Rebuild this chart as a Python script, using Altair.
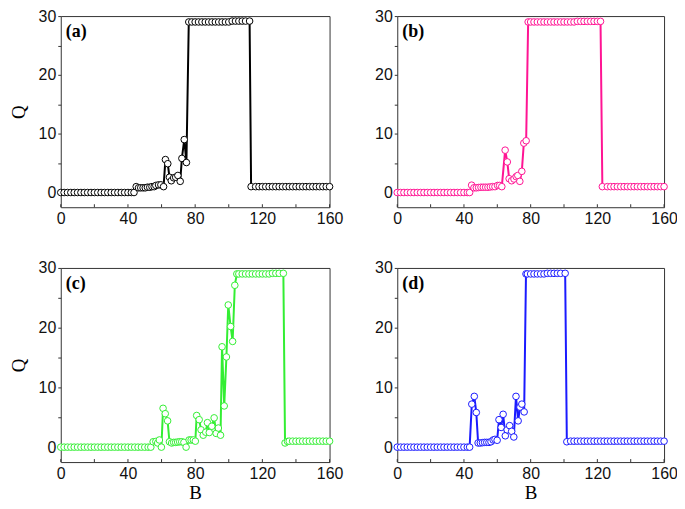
import altair as alt
import pandas as pd

# ---------------- data ----------------
X_TICKS = [0, 20, 40, 60, 80, 100, 120, 140, 160]
Y_TICKS = [0, 5, 10, 15, 20, 25, 30]
LABELS = ["(a)", "(b)", "(c)", "(d)"]
COLORS = ["#000000", "#ff1493", "#33ee33", "#1a1aff"]

Ba = [0, 2, 4, 6, 8, 10, 12, 14, 16, 18, 20, 22, 24, 26, 28, 30, 32, 34, 36, 38, 40, 42, 43.6,
      44.9, 46.3, 47.6, 49.0, 50.3, 51.6, 53.0, 54.3, 55.6, 56.6, 58.2, 59.6, 61.2, 62.3, 63.7, 64.7,
      65.8, 67.2, 68.4, 69.7, 71.1, 72.1, 73.5, 74.8,
      76.2, 78, 80, 82, 84, 86, 88, 90, 92, 94, 96, 98, 100,
      102, 104, 106, 108, 110, 112.4,
      113.3, 116, 118, 120, 122, 124, 126, 128, 130, 132, 134, 136, 138, 140, 142, 144, 146, 148, 150,
      152, 154, 156, 158, 160]
Qa = [0, 0, 0, 0, 0, 0, 0, 0, 0, 0, 0, 0, 0, 0, 0, 0, 0, 0, 0, 0, 0, 0, 0,
      1.0, 0.8, 0.8, 0.8, 0.8, 0.9, 0.9, 1.0, 1.0, 1.2, 1.3, 1.3, 1.0, 5.6, 4.9, 2.6,
      2.0, 2.5, 2.6, 2.9, 1.9, 5.8, 9.0, 5.1,
      29.0, 29.0, 29.0, 29.0, 29.0, 29.0, 29.0, 29.0, 29.0, 29.0, 29.0, 29.0, 29.0,
      29.15, 29.15, 29.15, 29.15, 29.15, 29.15,
      1.0, 1.0, 1.0, 1.0, 1.0, 1.0, 1.0, 1.0, 1.0, 1.0, 1.0, 1.0, 1.0, 1.0, 1.0, 1.0, 1.0, 1.0, 1.0,
      1.0, 1.0, 1.0, 1.0, 1.0]

Bb = [0, 2, 4, 6, 8, 10, 12, 14, 16, 18, 20, 22, 24, 26, 28, 30, 32, 34, 36, 38, 40, 42, 43.4,
      44.6, 46.0, 47.4, 48.8, 50.2, 51.6, 53.0, 54.4, 55.8, 57.2, 58.6, 60.2, 61.4, 62.7, 64.7,
      66.0, 67.1, 68.6, 70.0, 71.3, 72.3, 73.5, 74.7, 75.9, 77.3,
      78.5, 80, 82, 84, 86, 88, 90, 92, 94, 96, 98, 100, 102, 104, 106,
      108, 110, 112, 114, 116, 118, 120, 121.9,
      123.0, 126, 128, 130, 132, 134, 136, 138, 140, 142, 144, 146, 148, 150, 152, 154, 156, 158, 160]
Qb = [0, 0, 0, 0, 0, 0, 0, 0, 0, 0, 0, 0, 0, 0, 0, 0, 0, 0, 0, 0, 0, 0, 0,
      1.25, 0.8, 0.8, 0.85, 0.9, 0.9, 0.9, 0.9, 0.95, 1.0, 1.0, 1.2, 1.2, 1.0, 7.2,
      5.2, 2.35, 2.0, 2.3, 2.7, 2.9, 1.9, 3.6, 8.4, 8.8,
      29.0, 29.0, 29.0, 29.0, 29.0, 29.0, 29.0, 29.0, 29.0, 29.0, 29.0, 29.0, 29.0, 29.0, 29.0,
      29.1, 29.1, 29.1, 29.1, 29.1, 29.1, 29.1, 29.1,
      1.0, 1.0, 1.0, 1.0, 1.0, 1.0, 1.0, 1.0, 1.0, 1.0, 1.0, 1.0, 1.0, 1.0, 1.0, 1.0, 1.0, 1.0, 1.0]

Bc = [0, 2, 4, 6, 8, 10, 12, 14, 16, 18, 20, 22, 24, 26, 28, 30, 32, 34, 36, 38, 40, 42, 44, 46,
      48, 50, 52, 53.6,
      55.0, 56.6, 57.7, 58.7, 59.9, 60.9, 62.2, 63.6, 64.7, 66.0, 67.2, 68.4, 69.6, 70.8, 72.0,
      73.3, 74.6, 76.4, 77.6, 78.9, 80.1, 80.9, 82.4, 83.5, 84.8, 86.3, 87.3, 88.4, 89.9, 91.3,
      92.5, 93.8, 95.1, 96.0, 97.3, 98.6, 99.7, 101.1, 102.3, 103.6,
      104.8, 106, 108, 110, 112, 114, 116, 118, 120, 122, 124,
      126, 128, 130, 132.5,
      133.5, 135.0, 136, 138, 140, 142, 144, 146, 148, 150, 152, 154, 156, 158, 160]
Qc = [0, 0, 0, 0, 0, 0, 0, 0, 0, 0, 0, 0, 0, 0, 0, 0, 0, 0, 0, 0, 0, 0, 0, 0,
      0, 0, 0, 0,
      0.9, 0.95, 0.7, 1.2, 0.0, 6.5, 5.6, 4.4, 0.9, 0.7, 0.8, 0.8, 0.85, 0.9, 0.9,
      0.8, 0.0, 1.2, 1.2, 1.2, 1.0, 5.3, 4.6, 2.9, 2.0, 2.5, 4.1, 2.45, 3.5, 4.9,
      2.3, 3.2, 2.0, 16.8, 6.9, 15.1, 23.8, 20.2, 17.7, 27.1,
      29.0, 29.0, 29.0, 29.0, 29.0, 29.0, 29.0, 29.0, 29.0, 29.0, 29.0,
      29.1, 29.1, 29.1, 29.1,
      0.7, 0.95, 1.0, 1.0, 1.0, 1.0, 1.0, 1.0, 1.0, 1.0, 1.0, 1.0, 1.0, 1.0, 1.0]

Bd = [0, 2, 4, 6, 8, 10, 12, 14, 16, 18, 20, 22, 24, 26, 28, 30, 32, 34, 36, 38, 40, 42, 43.4,
      44.7, 46.2, 47.4, 48.5, 49.8, 51.1, 52.4, 53.7, 55.0, 56.2, 57.5, 58.6, 59.9, 61.0, 62.3,
      63.5, 64.8, 65.9, 67.4, 68.6, 69.9, 71.2, 72.5, 73.6, 74.7, 76.1,
      77.2, 78, 80, 82, 84, 86, 88,
      90, 92, 94, 96, 98, 100.7,
      101.7, 104, 106, 108, 110, 112, 114, 116, 118, 120, 122, 124, 126, 128, 130, 132, 134, 136,
      138, 140, 142, 144, 146, 148, 150, 152, 154, 156, 158, 160]
Qd = [0, 0, 0, 0, 0, 0, 0, 0, 0, 0, 0, 0, 0, 0, 0, 0, 0, 0, 0, 0, 0, 0, 0,
      7.2, 8.5, 5.8, 0.7, 0.7, 0.75, 0.8, 0.8, 0.8, 0.9, 1.2, 1.3, 1.15, 4.6, 3.3,
      5.5, 1.9, 2.9, 3.6, 2.65, 1.7, 8.5, 4.4, 6.7, 7.2, 5.9,
      29.0, 29.0, 29.0, 29.0, 29.0, 29.0, 29.0,
      29.1, 29.1, 29.1, 29.1, 29.1, 29.1,
      0.9, 1.0, 1.0, 1.0, 1.0, 1.0, 1.0, 1.0, 1.0, 1.0, 1.0, 1.0, 1.0, 1.0, 1.0, 1.0, 1.0, 1.0,
      1.0, 1.0, 1.0, 1.0, 1.0, 1.0, 1.0, 1.0, 1.0, 1.0, 1.0, 1.0]

SERIES = [(Ba, Qa), (Bb, Qb), (Bc, Qc), (Bd, Qd)]
for b_, q_ in SERIES:
    assert len(b_) == len(q_), (len(b_), len(q_))

# ---------------- layout ----------------
W_LEFT, W_RIGHT = 270, 268
H_TOP, H_BOTTOM = 192, 195
LABEL_FS = 16


def panel(i, width, height, show_x_title, show_y_title):
    b_vals, q_vals = SERIES[i]
    color = COLORS[i]
    df = pd.DataFrame({"B": b_vals, "Q": q_vals})
    x_enc = alt.X(
        "B:Q",
        scale=alt.Scale(domain=[0, 160], nice=False, zero=False),
        axis=alt.Axis(
            values=X_TICKS,
            labelExpr="datum.value % 40 == 0 ? datum.label : ''",
            ticks=False, domain=False, grid=False,
            labelFlush=False, labelOverlap=False, labelPadding=3,
            title="B" if show_x_title else None, titlePadding=3,
        ),
    )
    y_enc = alt.Y(
        "Q:Q",
        scale=alt.Scale(domain=[-2.5, 30], nice=False, zero=False),
        axis=alt.Axis(
            values=Y_TICKS,
            labelExpr="datum.value % 10 == 0 ? datum.label : ''",
            ticks=True, tickSize=3, domain=False, grid=False,
            labelFlush=False, labelOverlap=False, labelPadding=2,
            title="Q" if show_y_title else None, titlePadding=10,
        ),
    )
    base = alt.Chart(df).encode(x=x_enc, y=y_enc)
    line = base.mark_line(color=color, strokeWidth=2)
    pts = base.mark_point(shape="circle", filled=True, fill="white", stroke=color,
                          strokeWidth=1, size=44, opacity=1)
    tick_df = pd.DataFrame({"B": X_TICKS})
    inner_ticks = alt.Chart(tick_df).mark_rule(color="#333", strokeWidth=1).encode(
        x=alt.X("B:Q"), y=alt.value(height), y2=alt.value(height - 3)
    )
    lab = alt.Chart(pd.DataFrame({"label": [LABELS[i]]})).mark_text(
        font="Liberation Serif", fontSize=18, fontWeight="bold", align="left",
        baseline="middle", color="#000"
    ).encode(x=alt.value(5), y=alt.value(16), text="label:N")
    return alt.layer(line, pts, inner_ticks, lab).properties(width=width, height=height)


a = panel(0, W_LEFT, H_TOP, False, True)
b = panel(1, W_RIGHT, H_TOP, False, False)
c = panel(2, W_LEFT, H_BOTTOM, True, True)
d = panel(3, W_RIGHT, H_BOTTOM, True, False)

chart = alt.vconcat(
    alt.hconcat(a, b, spacing=30),
    alt.hconcat(c, d, spacing=30),
    spacing=32,
).properties(
    padding={"left": 0, "top": -2, "right": -1, "bottom": 0},
    background="white",
).configure_view(
    stroke="#333", strokeWidth=1
).configure_axis(
    labelFont="Liberation Sans", labelFontSize=LABEL_FS, labelColor="#111",
    titleFont="Liberation Serif", titleFontSize=19, titleFontWeight="normal",
    titleColor="#000", tickColor="#333"
)

chart.save("out.html", embed_options={"renderer": "svg", "actions": False})
